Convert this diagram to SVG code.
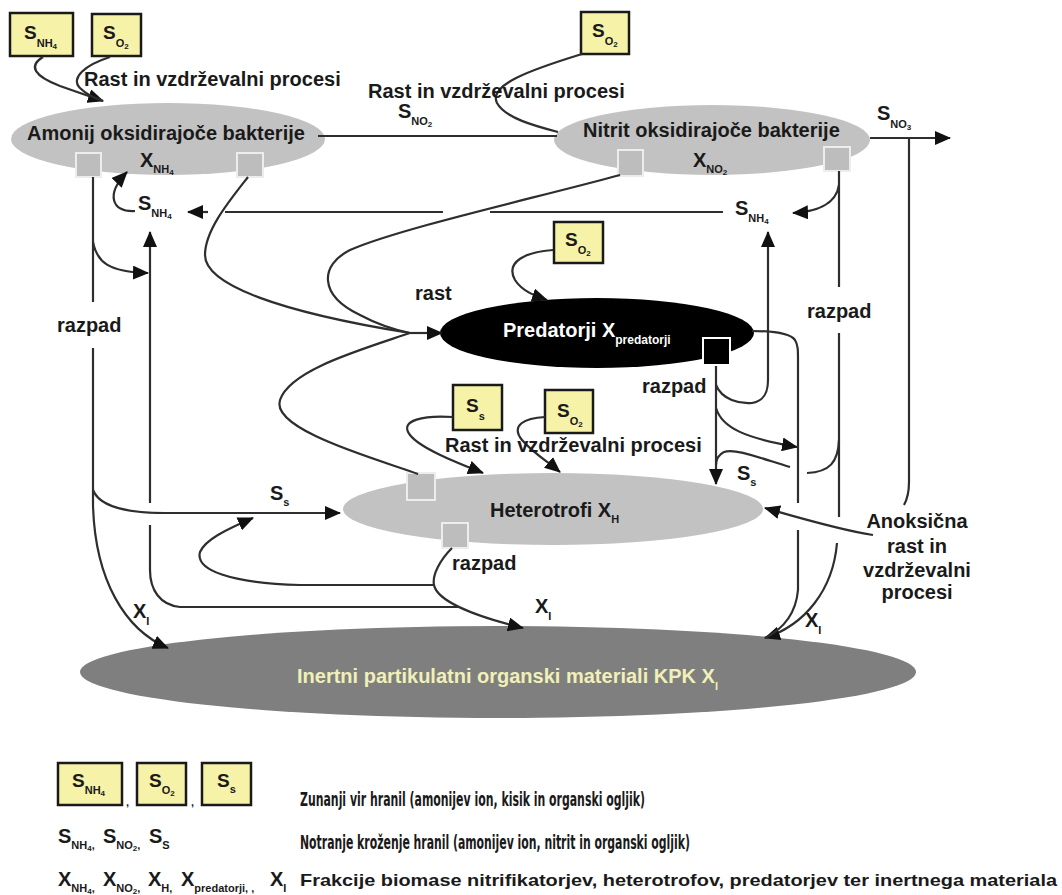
<svg xmlns="http://www.w3.org/2000/svg" width="1062" height="895" viewBox="0 0 1062 895">
<defs>
<style>
.t{font-family:"Liberation Sans",Arial,Helvetica,sans-serif;font-weight:bold;font-size:20px;fill:#1a1a1a}
.bs{font-size:19px}
.sub{font-size:11px}
.sub2{font-size:8px}
.box{fill:#f6f2a8;stroke:#1a1a1a;stroke-width:2.5}
.sq{fill:#bdbdbd;stroke:#ededed;stroke-width:2}
.c{fill:none;stroke:#2e2e2e;stroke-width:2.2}
.a{marker-end:url(#ah)}
.lg{font-family:"Liberation Sans Narrow","DejaVu Sans Condensed","Liberation Sans",sans-serif;font-weight:bold;font-size:19px;fill:#1a1a1a}
.lg3{font-family:"Liberation Sans",Arial,sans-serif;font-weight:bold;font-size:17px;fill:#1a1a1a}
</style>
<marker id="ah" viewBox="0 0 16 14" refX="15" refY="7" markerWidth="16" markerHeight="14" markerUnits="userSpaceOnUse" orient="auto"><path d="M0,0 L16,7 L0,14 z" fill="#111"/></marker>
</defs>
<rect width="1062" height="895" fill="#fff"/>

<!-- nodes -->
<g id="aob">
<ellipse cx="168" cy="139" rx="157" ry="36" fill="#c2c2c2"/>
<text class="t" x="27" y="140">Amonij oksidirajoče bakterije</text>
<text class="t"><tspan x="140" y="167">X</tspan><tspan class="sub" y="173">NH</tspan><tspan class="sub2" y="175">4</tspan></text>
<rect class="sq" x="76" y="153" width="25" height="24"/>
<rect class="sq" x="237" y="153" width="26" height="24"/>
</g>
<g id="nob">
<ellipse cx="712" cy="140" rx="158" ry="35" fill="#c2c2c2"/>
<text class="t" x="583" y="137">Nitrit oksidirajoče bakterije</text>
<text class="t"><tspan x="693" y="167">X</tspan><tspan class="sub" y="173">NO</tspan><tspan class="sub2" y="175">2</tspan></text>
<rect class="sq" x="618" y="150" width="25" height="26"/>
<rect class="sq" x="824" y="147" width="26" height="24"/>
</g>
<g id="predatorji">
<ellipse cx="597" cy="333" rx="157" ry="35" fill="#000"/>
<text class="t" style="fill:#fff"><tspan x="503" y="337">Predatorji X</tspan><tspan class="sub" style="font-size:12px" y="344">predatorji</tspan></text>
<rect x="703" y="338" width="27" height="27" fill="#000" stroke="#fff" stroke-width="2"/>
</g>
<g id="heterotrofi">
<ellipse cx="553" cy="509" rx="210" ry="36" fill="#c2c2c2"/>
<text class="t"><tspan x="490" y="517">Heterotrofi X</tspan><tspan class="sub" y="523">H</tspan></text>
<rect class="sq" x="407" y="473" width="28" height="27"/>
<rect class="sq" x="442" y="523" width="26" height="25"/>
</g>
<g id="inertni">
<ellipse cx="498" cy="672" rx="418" ry="46" fill="#7f7f7f"/>
<text class="t" style="fill:#f0f0b8"><tspan x="297" y="683">Inertni partikulatni organski materiali KPK X</tspan><tspan class="sub" y="690">I</tspan></text>
</g>
<g id="box-snh4">
<rect class="box" x="10" y="13" width="63" height="43"/>
<text class="t bs"><tspan x="24" y="39">S</tspan><tspan class="sub" y="47">NH</tspan><tspan class="sub2" y="49">4</tspan></text>
</g>
<g id="box-so2-a">
<rect class="box" x="92" y="14" width="49" height="42"/>
<text class="t bs"><tspan x="103" y="39">S</tspan><tspan class="sub" y="47">O</tspan><tspan class="sub2" y="49">2</tspan></text>
</g>
<g id="box-so2-b">
<rect class="box" x="581" y="12" width="48" height="42"/>
<text class="t bs"><tspan x="592" y="37">S</tspan><tspan class="sub" y="45">O</tspan><tspan class="sub2" y="47">2</tspan></text>
</g>
<g id="box-so2-c">
<rect class="box" x="554" y="222" width="49" height="41"/>
<text class="t bs"><tspan x="565" y="246">S</tspan><tspan class="sub" y="254">O</tspan><tspan class="sub2" y="256">2</tspan></text>
</g>
<g id="box-ss">
<rect class="box" x="453" y="385" width="49" height="45"/>
<text class="t bs"><tspan x="466" y="412">S</tspan><tspan class="sub" y="420">s</tspan></text>
</g>
<g id="box-so2-d">
<rect class="box" x="545" y="390" width="48" height="43"/>
<text class="t bs"><tspan x="557" y="417">S</tspan><tspan class="sub" y="425">O</tspan><tspan class="sub2" y="427">2</tspan></text>
</g>

<!-- connectors -->
<g id="connectors">
<path class="c a" d="M43,57 C28,66 34,76 60,86 L103,101"/>
<path class="c" d="M110,57 C85,65 70,78 80,88 C86,94 94,98 103,101"/>
<path class="c" d="M318,136 L557,136"/>
<path class="c" d="M582,54 C530,70 488,85 497,103 C505,118 535,126 558,132"/>
<path class="c a" d="M870,138 L950,138"/>
<path class="c" d="M909,138 L909,482 Q909,496 904,505"/>
<path class="c" d="M839,171 L839,287"/>
<path class="c" d="M839,333 L839,517"/>
<path class="c a" d="M837,543 C833,590 805,625 765,638"/>
<path class="c a" d="M839,185 C836,205 815,212 793,213"/>
<path class="c" d="M723,212 L490,212"/>
<path class="c" d="M443,212 L225,212"/>
<path class="c a" d="M208,212 L188,212"/>
<path class="c a" d="M135,211 C112,212 105,195 127,172"/>
<path class="c" d="M93,177 L93,302"/>
<path class="c a" d="M93,348 L93,505 C95,580 125,630 168,648"/>
<path class="c a" d="M93,242 C97,262 108,272 148,273"/>
<path class="c a" d="M93,490 C100,508 130,513 165,513 L340,513"/>
<path class="c a" d="M150,503 L150,232"/>
<path class="c" d="M458,607 L180,607 C160,605 150,590 150,570 L150,525"/>
<path class="c a" d="M452,548 C440,560 432,575 434,585 C437,600 470,615 523,628"/>
<path class="c a" d="M434,585 L300,585 C230,583 195,570 200,552 C205,540 225,530 253,518"/>
<path class="c" d="M248,177 C230,200 205,230 205,255 C205,285 280,312 410,333"/>
<path class="c" d="M620,175 C540,197 400,228 350,250 C320,265 318,295 360,315 C375,323 395,330 410,333"/>
<path class="c" d="M418,474 C380,460 270,430 280,400 C290,370 360,350 410,333"/>
<path class="c a" d="M410,333 L442,333"/>
<path class="c a" d="M553,250 C525,252 505,262 515,280 C522,291 535,296 547,300"/>
<path class="c a" d="M716,366 L716,484"/>
<path class="c a" d="M716,385 C722,400 740,404 752,403 C764,401 768,393 768,380 L768,232"/>
<path class="c a" d="M716,408 C722,428 745,438 797,447"/>
<path class="c" d="M839,440 C838,462 830,472 807,473"/>
<path class="c" d="M790,467 C760,458 735,448 724,452 C718,455 716,460 716,465"/>
<path class="c" d="M752,331 C770,331 790,333 795,340 C798,345 798,350 798,360 L798,503"/>
<path class="c" d="M798,530 L798,590 C796,612 785,628 765,638"/>
<path class="c a" d="M873,535 C840,530 800,518 765,508"/>
<path class="c a" d="M453,417 C425,415 398,420 410,435 C420,448 455,462 483,473"/>
<path class="c a" d="M545,417 C525,418 510,425 522,440 C532,452 548,462 560,472"/>
</g>

<!-- connector labels -->
<g id="labels">
<text class="t" x="84" y="86">Rast in vzdrževalni procesi</text>
<text class="t" x="368" y="98">Rast in vzdrževalni procesi</text>
<text class="t"><tspan x="398" y="118">S</tspan><tspan class="sub" y="125">NO</tspan><tspan class="sub2" y="127">2</tspan></text>
<text class="t"><tspan x="877" y="120">S</tspan><tspan class="sub" y="128">NO</tspan><tspan class="sub2" y="130">3</tspan></text>
<text class="t"><tspan x="138" y="210">S</tspan><tspan class="sub" y="217">NH</tspan><tspan class="sub2" y="219">4</tspan></text>
<text class="t"><tspan x="735" y="215">S</tspan><tspan class="sub" y="222">NH</tspan><tspan class="sub2" y="224">4</tspan></text>
<text class="t" x="415" y="300">rast</text>
<text class="t" x="57" y="332">razpad</text>
<text class="t" x="807" y="318">razpad</text>
<text class="t" x="642" y="393">razpad</text>
<text class="t" x="452" y="570">razpad</text>
<text class="t" x="445" y="452">Rast in vzdrževalni procesi</text>
<text class="t"><tspan x="270" y="500">S</tspan><tspan class="sub" y="506">s</tspan></text>
<text class="t"><tspan x="737" y="480">S</tspan><tspan class="sub" y="486">s</tspan></text>
<text class="t"><tspan x="133" y="618">X</tspan><tspan class="sub" y="625">I</tspan></text>
<text class="t"><tspan x="535" y="613">X</tspan><tspan class="sub" y="620">I</tspan></text>
<text class="t"><tspan x="805" y="627">X</tspan><tspan class="sub" y="634">I</tspan></text>
<text class="t" text-anchor="middle"><tspan x="917" y="528">Anoksična</tspan><tspan x="917" y="553">rast in</tspan><tspan x="917" y="577">vzdrževalni</tspan><tspan x="917" y="599">procesi</tspan></text>
</g>

<!-- legend -->
<g id="legend">
<rect class="box" x="58" y="763" width="64" height="42"/>
<text class="t bs"><tspan x="72" y="787">S</tspan><tspan class="sub" y="794">NH</tspan><tspan class="sub2" y="796">4</tspan></text>
<text class="t sub" x="126" y="806">,</text>
<rect class="box" x="137" y="763" width="49" height="42"/>
<text class="t bs"><tspan x="149" y="787">S</tspan><tspan class="sub" y="794">O</tspan><tspan class="sub2" y="796">2</tspan></text>
<text class="t sub" x="191" y="806">,</text>
<rect class="box" x="202" y="763" width="49" height="42"/>
<text class="t bs"><tspan x="217" y="787">S</tspan><tspan class="sub" y="793">s</tspan></text>
<text class="t"><tspan x="58" y="843">S</tspan><tspan class="sub" y="849">NH</tspan><tspan class="sub2" y="851">4</tspan><tspan class="sub" y="849">, </tspan><tspan x="103" y="843">S</tspan><tspan class="sub" y="849">NO</tspan><tspan class="sub2" y="851">2</tspan><tspan class="sub" y="849">, </tspan><tspan x="149" y="843">S</tspan><tspan class="sub" y="849">S</tspan></text>
<text class="t"><tspan x="58" y="886">X</tspan><tspan class="sub" y="892">NH</tspan><tspan class="sub2" y="894">4</tspan><tspan class="sub" y="892">, </tspan><tspan x="103" y="886">X</tspan><tspan class="sub" y="892">NO</tspan><tspan class="sub2" y="894">2</tspan><tspan class="sub" y="892">, </tspan><tspan x="148" y="886">X</tspan><tspan class="sub" y="892">H, </tspan><tspan x="181" y="886">X</tspan><tspan class="sub" y="892">predatorji, , </tspan><tspan x="270" y="886">X</tspan><tspan class="sub" y="892">I</tspan></text>
<text class="lg" x="300" y="806" textLength="345" lengthAdjust="spacingAndGlyphs">Zunanji vir hranil (amonijev ion, kisik in organski ogljik)</text>
<text class="lg" x="300" y="849" textLength="390" lengthAdjust="spacingAndGlyphs">Notranje kroženje hranil (amonijev ion, nitrit in organski ogljik)</text>
<text class="lg3" x="300" y="886" textLength="757" lengthAdjust="spacingAndGlyphs">Frakcije biomase nitrifikatorjev, heterotrofov, predatorjev ter inertnega materiala</text>
</g>
</svg>
